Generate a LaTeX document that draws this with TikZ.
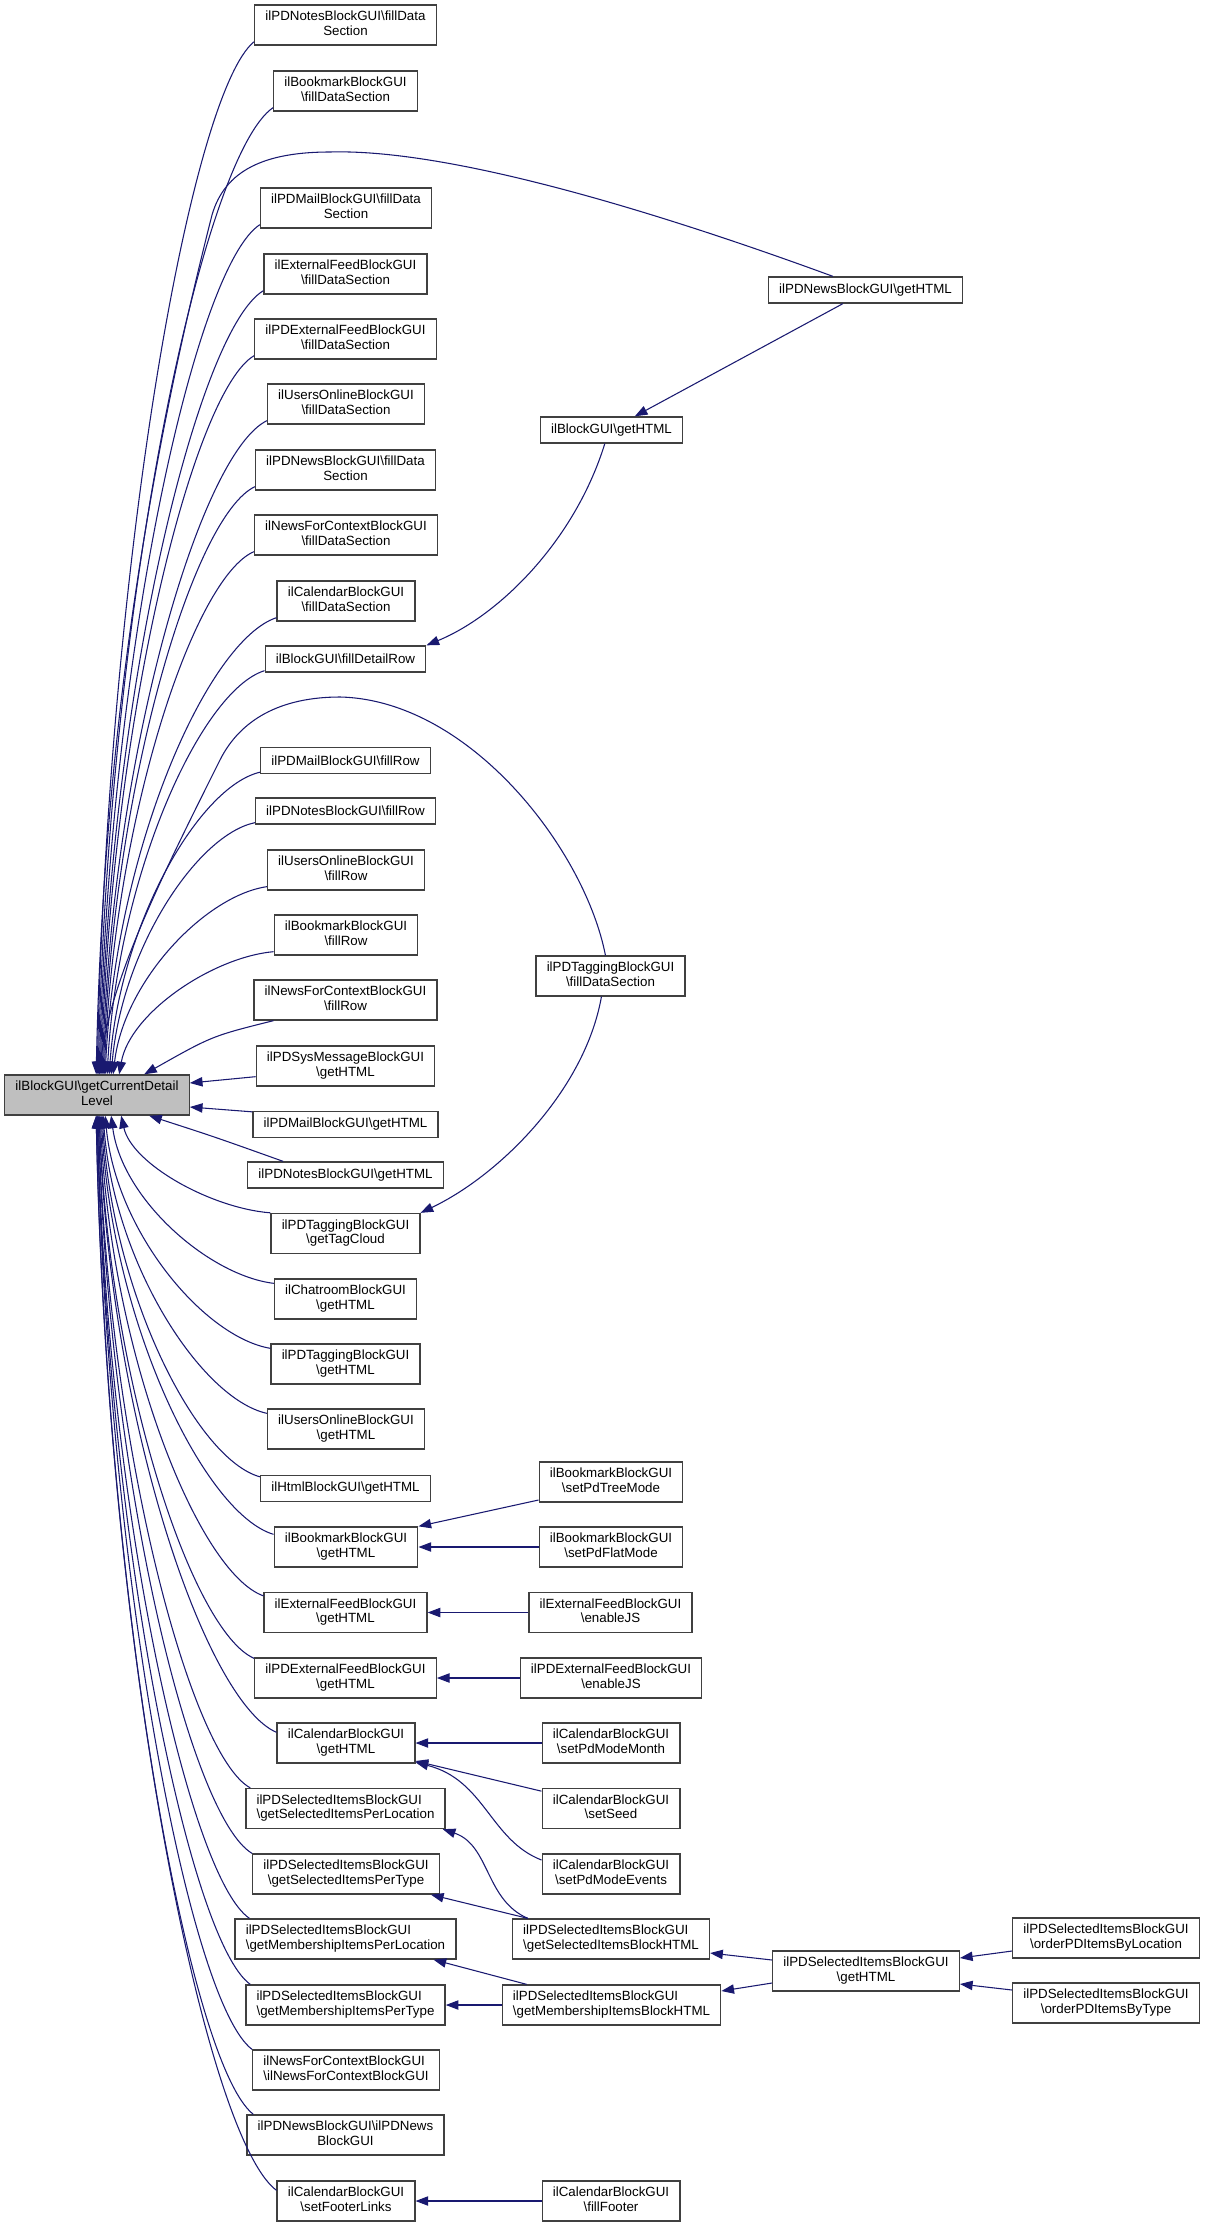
\documentclass[tikz,border=0pt]{standalone}
\usepackage{fontspec}
\setmainfont{Liberation Sans}
\usetikzlibrary{arrows.meta}
\definecolor{edgeblue}{RGB}{25,25,112}
\definecolor{boxgray}{RGB}{191,191,191}
\newcommand\BSL{\textbackslash}
\newcommand\twoline[2]{\begin{tabular}{@{}l@{}}#1\\\multicolumn{1}{@{}c@{}}{#2}\end{tabular}}
\begin{document}
\begin{tikzpicture}[x=0.75pt,y=-0.75pt,
  font=\fontsize{10}{11}\selectfont,
  box/.style={draw=black!75,line width=1pt,fill=white,inner xsep=8pt,inner ysep=2pt,minimum height=30pt},
  boxone/.style={box,minimum height=19.5pt},
  mainbox/.style={box,fill=boxgray},
  edge/.style={draw=edgeblue,line width=0.8pt,-{Triangle[length=9.5pt,width=7pt]}}]
\useasboundingbox (0,0) rectangle (1205,2227);
% main node
\node[mainbox] (main) at (97,1095) {\twoline{ilBlockGUI\BSL getCurrentDetail}{Level}};
% column 1
\node[box] (c1) at (345.5,25) {\twoline{ilPDNotesBlockGUI\BSL fillData}{Section}};
\node[box] (c2) at (345.5,91) {\twoline{ilBookmarkBlockGUI}{\BSL fillDataSection}};
\node[box] (c3) at (346,208) {\twoline{ilPDMailBlockGUI\BSL fillData}{Section}};
\node[box] (c4) at (345.5,274) {\twoline{ilExternalFeedBlockGUI}{\BSL fillDataSection}};
\node[box] (c5) at (345.5,339) {\twoline{ilPDExternalFeedBlockGUI}{\BSL fillDataSection}};
\node[box] (c6) at (346,404) {\twoline{ilUsersOnlineBlockGUI}{\BSL fillDataSection}};
\node[box] (c7) at (345.5,470) {\twoline{ilPDNewsBlockGUI\BSL fillData}{Section}};
\node[box] (c8) at (346,535) {\twoline{ilNewsForContextBlockGUI}{\BSL fillDataSection}};
\node[box] (c9) at (346,601) {\twoline{ilCalendarBlockGUI}{\BSL fillDataSection}};
\node[boxone] (c10) at (345.5,659) {ilBlockGUI\BSL fillDetailRow};
\node[boxone] (c11) at (345.5,760.5) {ilPDMailBlockGUI\BSL fillRow};
\node[boxone] (c12) at (345.5,811) {ilPDNotesBlockGUI\BSL fillRow};
\node[box] (c13) at (346,870) {\twoline{ilUsersOnlineBlockGUI}{\BSL fillRow}};
\node[box] (c14) at (346,935) {\twoline{ilBookmarkBlockGUI}{\BSL fillRow}};
\node[box] (c15) at (345.5,1000) {\twoline{ilNewsForContextBlockGUI}{\BSL fillRow}};
\node[box] (c16) at (345.5,1066) {\twoline{ilPDSysMessageBlockGUI}{\BSL getHTML}};
\node[boxone] (c17) at (345.5,1124.5) {ilPDMailBlockGUI\BSL getHTML};
\node[boxone] (c18) at (345.5,1175) {ilPDNotesBlockGUI\BSL getHTML};
\node[box] (c19) at (345.5,1233.5) {\twoline{ilPDTaggingBlockGUI}{\BSL getTagCloud}};
\node[box] (c20) at (345.5,1299) {\twoline{ilChatroomBlockGUI}{\BSL getHTML}};
\node[box] (c21) at (345.5,1364) {\twoline{ilPDTaggingBlockGUI}{\BSL getHTML}};
\node[box] (c22) at (346,1429) {\twoline{ilUsersOnlineBlockGUI}{\BSL getHTML}};
\node[boxone] (c23) at (345.5,1488.5) {ilHtmlBlockGUI\BSL getHTML};
\node[box] (c24) at (346,1547) {\twoline{ilBookmarkBlockGUI}{\BSL getHTML}};
\node[box] (c25) at (345.5,1612.5) {\twoline{ilExternalFeedBlockGUI}{\BSL getHTML}};
\node[box] (c26) at (345.5,1678) {\twoline{ilPDExternalFeedBlockGUI}{\BSL getHTML}};
\node[box] (c27) at (346,1743) {\twoline{ilCalendarBlockGUI}{\BSL getHTML}};
\node[box] (c28) at (345.5,1808.5) {\twoline{ilPDSelectedItemsBlockGUI}{\BSL getSelectedItemsPerLocation}};
\node[box] (c29) at (346,1874) {\twoline{ilPDSelectedItemsBlockGUI}{\BSL getSelectedItemsPerType}};
\node[box] (c30) at (345.5,1939) {\twoline{ilPDSelectedItemsBlockGUI}{\BSL getMembershipItemsPerLocation}};
\node[box] (c31) at (345.5,2005) {\twoline{ilPDSelectedItemsBlockGUI}{\BSL getMembershipItemsPerType}};
\node[box] (c32) at (346,2070) {\twoline{ilNewsForContextBlockGUI}{\BSL ilNewsForContextBlockGUI}};
\node[box] (c33) at (345.5,2135) {\twoline{ilPDNewsBlockGUI\BSL ilPDNews}{BlockGUI}};
\node[box] (c34) at (346,2201) {\twoline{ilCalendarBlockGUI}{\BSL setFooterLinks}};
% column 2
\node[boxone] (pdn) at (865.5,290) {ilPDNewsBlockGUI\BSL getHTML};
\node[boxone] (blk) at (611.5,430) {ilBlockGUI\BSL getHTML};
\node[box] (tagf) at (610.5,976) {\twoline{ilPDTaggingBlockGUI}{\BSL fillDataSection}};
\node[box] (tree) at (611,1482) {\twoline{ilBookmarkBlockGUI}{\BSL setPdTreeMode}};
\node[box] (flat) at (611,1547) {\twoline{ilBookmarkBlockGUI}{\BSL setPdFlatMode}};
\node[box] (efjs) at (610.5,1612.5) {\twoline{ilExternalFeedBlockGUI}{\BSL enableJS}};
\node[box] (pdefjs) at (611,1678) {\twoline{ilPDExternalFeedBlockGUI}{\BSL enableJS}};
\node[box] (month) at (611,1743) {\twoline{ilCalendarBlockGUI}{\BSL setPdModeMonth}};
\node[box] (seed) at (611,1808.5) {\twoline{ilCalendarBlockGUI}{\BSL setSeed}};
\node[box] (events) at (611,1874) {\twoline{ilCalendarBlockGUI}{\BSL setPdModeEvents}};
\node[box] (sbh) at (611,1939) {\twoline{ilPDSelectedItemsBlockGUI}{\BSL getSelectedItemsBlockHTML}};
\node[box] (mbh) at (611.5,2005) {\twoline{ilPDSelectedItemsBlockGUI}{\BSL getMembershipItemsBlockHTML}};
\node[box] (footer) at (611,2201) {\twoline{ilCalendarBlockGUI}{\BSL fillFooter}};
% column 3 and 4
\node[box] (gh) at (866,1971) {\twoline{ilPDSelectedItemsBlockGUI}{\BSL getHTML}};
\node[box] (obl) at (1106,1938) {\twoline{ilPDSelectedItemsBlockGUI}{\BSL orderPDItemsByLocation}};
\node[box] (obt) at (1106,2003) {\twoline{ilPDSelectedItemsBlockGUI}{\BSL orderPDItemsByType}};
% edges from callers above the main node
\foreach \n/\sy/\xe/\ye/\xt in {c1/4/253/41/98, c2/4/273/107/99, c3/4/259/224/100,
  c4/4/264/290/101, c5/4/255/355/102, c6/4/267/420/103, c7/4/254/486/104,
  c8/4/254/551/105, c9/4/277/617/106, c10/2/264/670/108, c11/2/259/771/110,
  c12/2/254/822/112, c13/4/267/886/114, c14/4/274/951/120}{
  \pgfmathsetmacro\eD{1075-\ye}
  \pgfmathsetmacro\eax{\xt+10}
  \pgfmathsetmacro\eay{\ye+0.5*\eD}
  \pgfmathsetmacro\ebx{\xe-0.4*(\xe-\xt)}
  \pgfmathsetmacro\eby{\ye+0.05*\eD}
  \pgfmathsetmacro\etx{(\xt-5)*0.75}
  \pgfmathsetmacro\esy{\sy*0.75}
  \draw[edge] ([yshift=\esy pt]\n.south west) .. controls (\ebx,\eby) and (\eax,\eay) .. ([xshift=\etx pt]main.north west);
}
% edges from callers below the main node
\foreach \n/\sx/\sy/\xe/\ye/\xt in {c19/0/0/270/1213/122, c20/0/5/274/1284/112,
  c21/0/5/270/1349/106, c22/0/5/267/1414/104, c23/0/2/260/1478/103,
  c24/0/8/274/1535/102, c25/0/4/264/1597/101, c26/0/1/255/1659/100,
  c27/0/10/277/1733/100, c28/5/0/252/1789/99, c29/0/0/252/1854/99,
  c30/15/0/252/1919/98, c31/5/0/252/1985/98, c32/0/0/252/2050/98,
  c33/7/0/252/2115/97, c34/0/10/277/2191/97}{
  \pgfmathsetmacro\eD{\ye-1115}
  \pgfmathsetmacro\eax{\xt+10}
  \pgfmathsetmacro\eay{1115+0.5*\eD}
  \pgfmathsetmacro\ebx{\xe-0.4*(\xe-\xt)}
  \pgfmathsetmacro\eby{\ye-0.05*\eD}
  \pgfmathsetmacro\etx{(\xt-5)*0.75}
  \pgfmathsetmacro\esx{\sx*0.75}
  \pgfmathsetmacro\esy{-\sy*0.75}
  \draw[edge] ([xshift=\esx pt,yshift=\esy pt]\n.north west) .. controls (\ebx,\eby) and (\eax,\eay) .. ([xshift=\etx pt]main.south west);
}
% special edges to main
\draw[edge] ([xshift=15pt]c15.south west) .. controls (212,1036) .. ([xshift=105pt]main.north west);
\draw[edge] ([yshift=-8pt]c16.west) -- ([yshift=9pt]main.east);
\draw[edge] ([yshift=-0.75pt]c17.north west) -- ([yshift=-9pt]main.east);
\draw[edge] ([xshift=27pt]c18.north west) .. controls (215,1137) .. ([xshift=108.75pt]main.south west);
\draw[edge] ([xshift=48.75pt]pdn.north west) .. controls (720,235) and (470,148) .. (330,152)
  .. controls (265,152) and (225,170) .. (212,215)
  .. controls (160,420) and (104,700) .. ([xshift=69pt]main.north west);
\draw[edge] ([xshift=52.5pt]tagf.north west) .. controls (585,850) and (470,700) .. (340,697)
  .. controls (280,697) and (240,720) .. (220,760)
  .. controls (160,880) and (110,980) .. ([xshift=71.25pt]main.north west);
% other edges
\draw[edge] ([xshift=56.25pt]pdn.south west) -- ([xshift=71.25pt]blk.north west);
\draw[edge] ([xshift=48.75pt]blk.south west) .. controls (575,540) and (500,615) .. (c10.north east);
\draw[edge] ([xshift=49.5pt]tagf.south west) .. controls (585,1090) and (500,1175) .. (c19.north east);
\draw[edge] ([yshift=-13.5pt]tree.west) -- (c24.north east);
\draw[edge] (flat.west) -- (c24.east);
\draw[edge] (efjs.west) -- (c25.east);
\draw[edge] (pdefjs.west) -- (c26.east);
\draw[edge] (month.west) -- (c27.east);
\draw[edge] ([yshift=13pt]seed.west) -- ([yshift=2pt]c27.south east);
\draw[edge] ([yshift=10.5pt]events.west) .. controls (490,1840) and (485,1780) .. ([yshift=1pt]c27.south east);
\draw[edge] ([xshift=12pt]sbh.north west) .. controls (485,1900) and (490,1845) .. ([xshift=-2.25pt]c28.south east);
\draw[edge] ([xshift=12pt]sbh.north west) -- ([xshift=-6.75pt]c29.south east);
\draw[edge] ([xshift=18.75pt]mbh.north west) -- ([xshift=-17.25pt]c30.south east);
\draw[edge] (mbh.west) -- (c31.east);
\draw[edge] ([yshift=8.25pt]gh.west) -- ([yshift=-10.5pt]sbh.east);
\draw[edge] ([yshift=-9pt]gh.west) -- ([yshift=10.5pt]mbh.east);
\draw[edge] ([yshift=-9.75pt]obl.west) -- ([yshift=9.75pt]gh.east);
\draw[edge] ([yshift=9.75pt]obt.west) -- ([yshift=-9.75pt]gh.east);
\draw[edge] (footer.west) -- (c34.east);
\end{tikzpicture}
\end{document}
